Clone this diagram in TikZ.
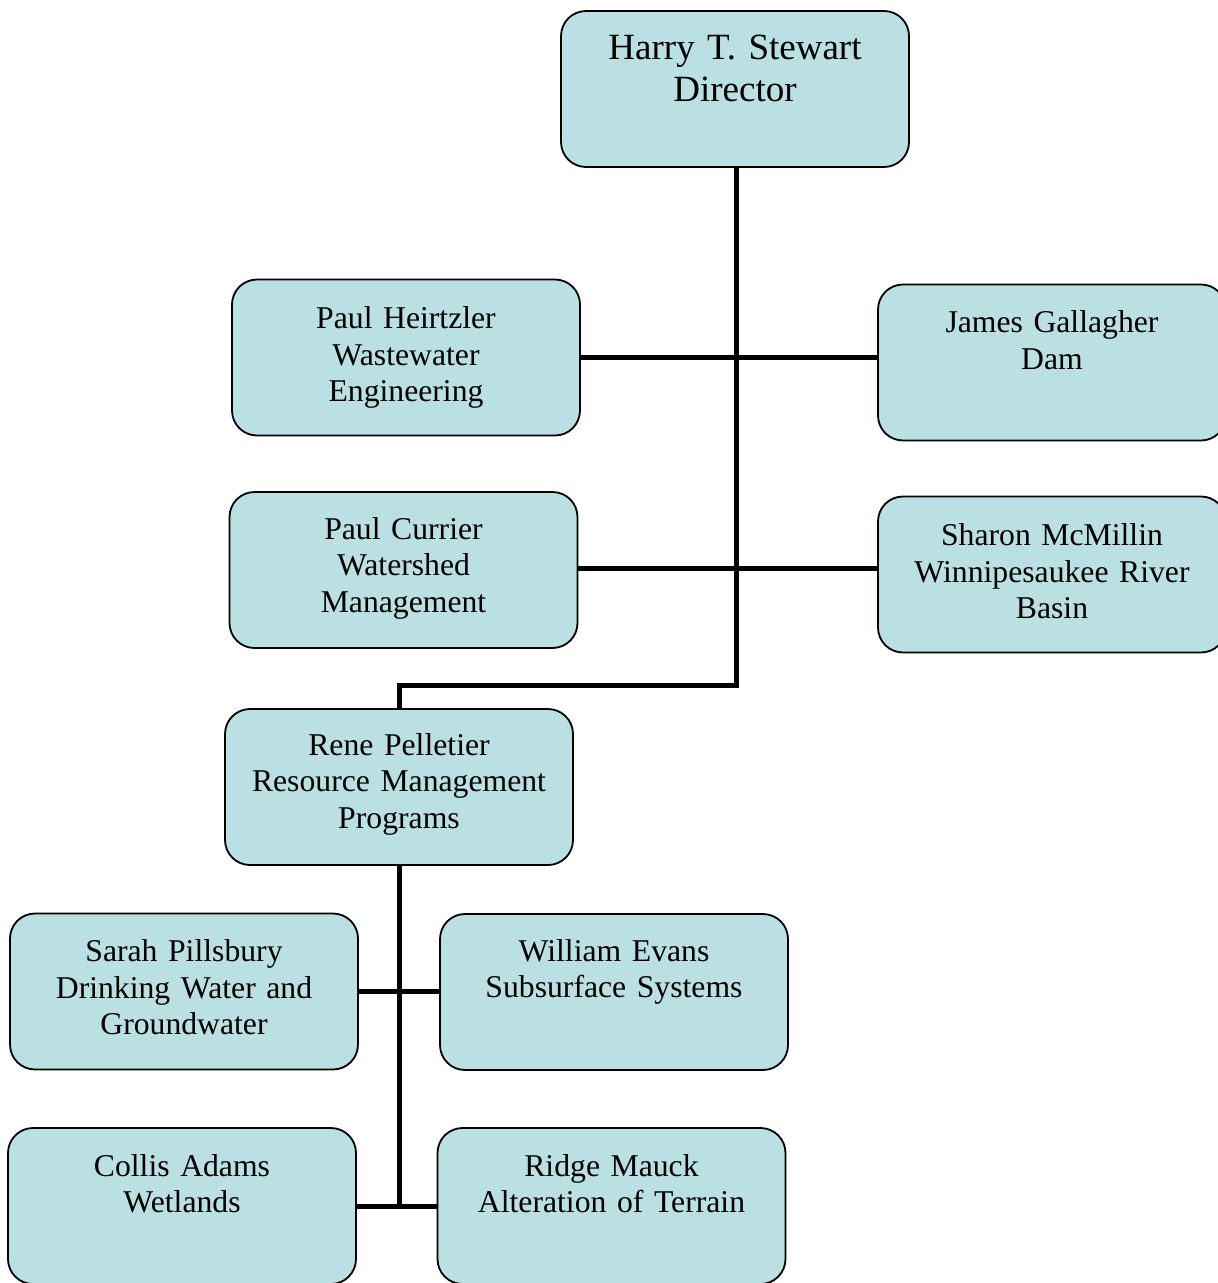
\documentclass[tikz,border=0pt]{standalone}
\usepackage{fontspec}
\setmainfont{Liberation Serif}
\definecolor{boxfill}{RGB}{186,224,227}
\tikzset{
  x=1pt, y=-1pt,
  orgbox/.style={draw=black, line width=1.8pt, fill=boxfill, rounded corners=25pt,
    minimum width=348pt, minimum height=156pt, inner sep=0pt},
  boxtext/.style={text width=346pt, align=center, inner sep=0pt, anchor=base,
    font=\fontsize{31.7pt}{36.5pt}\selectfont},
  toptext/.style={boxtext, font=\fontsize{37pt}{42.6pt}\selectfont},
  link/.style={line width=5pt, draw=black}
}
\begin{document}
\begin{tikzpicture}
\useasboundingbox (0,0) rectangle (1218,1283);
\clip (0,0) rectangle (1218,1283);
\fill[white] (0,0) rectangle (1218,1283);

\coordinate (bend1) at (736,685);
\coordinate (bend2) at (399,685);

% boxes
\node[orgbox] (dir) at (735,89) {};
\node[toptext] (dirt) at ([yshift=-49pt]dir.north) {Harry T. Stewart\\Director};

\node[orgbox] (heir) at (406,357.5) {};
\node[boxtext] (heirt) at ([yshift=-50pt]heir.north) {Paul Heirtzler\\Wastewater\\Engineering};

\node[orgbox] (gall) at (1052,362.5) {};
\node[boxtext] (gallt) at ([yshift=-49pt]gall.north) {James Gallagher\\Dam};

\node[orgbox] (curr) at (403.5,570) {};
\node[boxtext] (currt) at ([yshift=-48pt]curr.north) {Paul Currier\\Watershed\\Management};

\node[orgbox] (mcm) at (1052,574.5) {};
\node[boxtext] (mcmt) at ([yshift=-50pt]mcm.north) {Sharon McMillin\\Winnipesaukee River\\Basin};

\node[orgbox] (pel) at (399,787) {};
\node[boxtext] (pelt) at ([yshift=-47pt]pel.north) {Rene Pelletier\\Resource Management\\Programs};

\node[orgbox] (pill) at (184,991.5) {};
\node[boxtext] (pillt) at ([yshift=-49pt]pill.north) {Sarah Pillsbury\\Drinking Water and\\Groundwater};

\node[orgbox] (evan) at (614,992) {};
\node[boxtext] (evant) at ([yshift=-48pt]evan.north) {William Evans\\Subsurface Systems};

\node[orgbox] (adam) at (182,1206) {};
\node[boxtext] (adamt) at ([yshift=-49pt]adam.north) {Collis Adams\\Wetlands};

\node[orgbox] (mauc) at (611.5,1206) {};
\node[boxtext] (mauct) at ([yshift=-49pt]mauc.north) {Ridge Mauck\\Alteration of Terrain};

% connectors
\draw[link] ([xshift=1pt]dir.south) -- (bend1) -- (bend2) -- (pel.north);
\draw[link] (heir.east) -- (heir.east -| gall.west);
\draw[link] ([yshift=2pt]curr.east) -- ([yshift=2pt]curr.east -| mcm.west);
\draw[link] (pel.south) -- (pel.south |- adam.east);
\draw[link] (pill.east) -- (pill.east -| evan.west);
\draw[link] (adam.east) -- (mauc.west);
\end{tikzpicture}
\end{document}
